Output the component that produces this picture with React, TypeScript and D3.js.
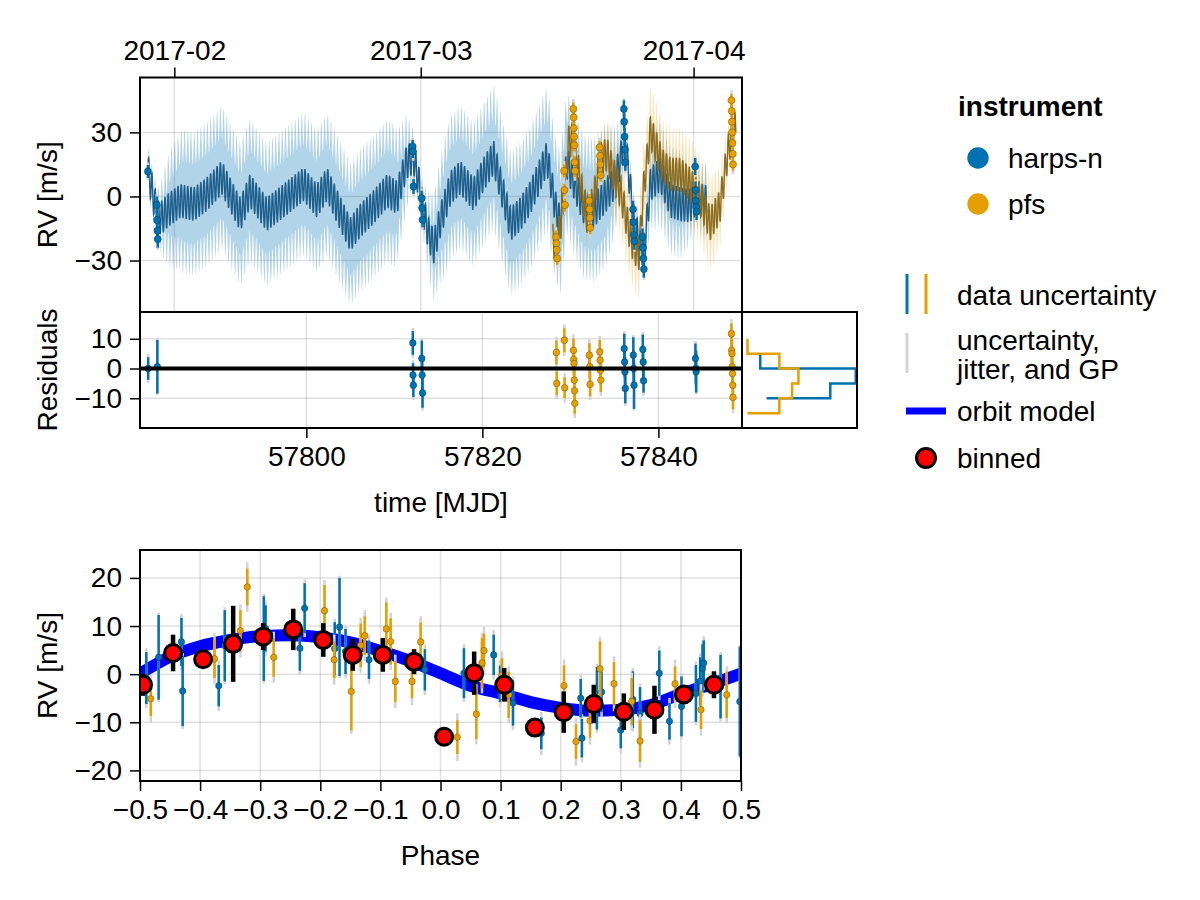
import * as d3 from 'd3'
import { useEffect, useRef } from 'react'

type Obs = [number, number, number] // [time or phase, rv, error]

// ---- axis ticks ----
const dateTickMJD = [57785, 57813, 57844]
const dateTickLabels = ['2017-02', '2017-03', '2017-04']
const mjdTicks = [57800, 57820, 57840]
const rvTicks = [-30, 0, 30]
const residTicks = [-10, 0, 10]
const phaseTicks = [-0.5, -0.4, -0.3, -0.2, -0.1, 0, 0.1, 0.2, 0.3, 0.4, 0.5]
const phaseRvTicks = [-20, -10, 0, 10, 20]

const instruments = ['harps-n', 'pfs']

// ---- orbit model (phase panel) ----
const orbitPhase = [-0.5, -0.45, -0.4, -0.35, -0.3, -0.25, -0.2, -0.15, -0.1, -0.05, 0, 0.05, 0.1, 0.15, 0.2, 0.25, 0.3, 0.35, 0.4, 0.45, 0.5]
const orbitRV = [0.1, 3.6, 5.8, 7.1, 7.9, 8.1, 7.7, 6.6, 4.8, 2.7, 0.2, -2.4, -4.0, -5.8, -7.0, -7.6, -7.4, -6.4, -4.1, -2.1, 0.1]
const orbitPeriod = 0.37
const orbitEpoch = 57782.0

// ---- slow (GP) part of the model under the orbit, per instrument ----
const harpsTrendT = [57782.0, 57782.5, 57783.1, 57783.6, 57784.2, 57785.7, 57787.2, 57788.7, 57790.4, 57791.7, 57792.5, 57793.6, 57795.5, 57797.4, 57799.7, 57801.2, 57802.35, 57803.9, 57805.0, 57806.1, 57807.6, 57809.2, 57810.3, 57811.4, 57812.15, 57812.7, 57813.2, 57813.9, 57814.5, 57815.2, 57816.4, 57817.5, 57819.0, 57820.15, 57821.3, 57822.05, 57823.2, 57824.3, 57825.45, 57826.6, 57827.35, 57828.3, 57828.86, 57829.6, 57830.35, 57831.5, 57832.65, 57833.8, 57834.9, 57835.6, 57836.15, 57836.6, 57837.2, 57837.95, 57838.4, 57839.1, 57840.2, 57841.4, 57842.5, 57843.6, 57844.3, 57845.5]
const harpsTrendRV = [12, 2, -10, -10, -7, -2.3, -3.9, 0.8, 8.6, -2.3, -8.6, 2.4, -8.6, -2.3, 5.5, -2.3, 5.5, -8.6, -18, -11.7, -5.4, 2.4, -0.8, 16, 18, 8, -5, -18, -24, -12, 3.9, 8.6, 0.8, 10.2, 18, 5.5, -13.2, -8.6, -0.8, 10.2, 18, -5.4, -13, 16, 7, -5, -7, -1, 5.5, 15, 27, 12, -12, -24, -25, 5.5, 10, -2.3, -4, -4.5, -1, -3]
const pfsTrendT = [57828.0, 57828.49, 57829.24, 57829.8, 57830.3, 57831.14, 57831.9, 57832.65, 57833.4, 57834.17, 57834.9, 57835.7, 57836.4, 57837.2, 57837.8, 57838.3, 57839.1, 57839.9, 57840.5, 57841.4, 57842.5, 57843.6, 57844.8, 57845.9, 57847.0, 57847.8, 57848.4, 57848.8]
const pfsTrendRV = [-20, -24, -2, 25, 27, 5.5, -10, -2, 17, 19.6, 10, 2, -11.7, -24, -27, 2.4, 30, 21, 14, 10, 10, 5.5, -2, -13, -5, 18, 30, 32]

// half width of the "uncertainty, jitter and GP" band around each model
const harpsBandT = [57782.0, 57783.1, 57784.5, 57786, 57810, 57811.5, 57812.2, 57813.2, 57814.5, 57816, 57834, 57835.5, 57836.2, 57838.3, 57839.5, 57842.5, 57844.25, 57845.5]
const harpsBandW = [4, 6, 20, 26, 26, 14, 5, 5, 18, 26, 26, 14, 6, 6, 16, 18, 6, 12]
const pfsBandT = [57828.0, 57828.45, 57830.5, 57831.3, 57832.2, 57833.4, 57834.8, 57836.5, 57846.5, 57848.4, 57848.8]
const pfsBandW = [10, 5, 5, 8, 5, 5, 12, 14, 14, 5, 8]

const harpsJitter = 3.0
const pfsJitter = 3.5

// ---- observations: RV vs time ----
const harpsObs: Obs[] = [
  [57782.0, 11.7, 3], [57783.0, -4, 4], [57783.04, -11, 4.5], [57783.08, -16, 4], [57783.12, -20, 4],
  [57812.08, 23.4, 3], [57812.12, 21, 3], [57812.18, 4.7, 3.5],
  [57813.1, -0.8, 3.5], [57813.15, -5.4, 3.5], [57813.2, -10.9, 3.5],
  [57836.08, 41, 4], [57836.12, 35, 4], [57836.16, 28, 4], [57836.2, 22, 4], [57836.24, 16, 4],
  [57837.12, -6, 4], [57837.17, -12, 4], [57837.22, -18, 4], [57837.27, -21, 4],
  [57838.2, -19, 4], [57838.25, -24, 4], [57838.3, -29, 4], [57838.35, -34, 4],
  [57844.18, 14, 4], [57844.22, 3, 4], [57844.26, -2, 4], [57844.3, -5, 4], [57844.34, -7, 4],
]
const pfsObs: Obs[] = [
  [57828.38, -19, 3], [57828.42, -22, 3], [57828.46, -25, 3], [57828.5, -29, 3],
  [57829.28, 12, 3], [57829.33, 3, 3], [57829.38, -4, 3],
  [57830.34, 41, 3], [57830.37, 37, 3], [57830.4, 32, 3], [57830.43, 28, 3], [57830.46, 24, 3], [57830.49, 16, 3], [57830.52, 12, 3],
  [57832.14, -2, 3], [57832.18, -6, 3], [57832.22, -10, 3], [57832.26, -14.7, 3],
  [57833.32, 23, 3], [57833.36, 19, 3], [57833.4, 15, 3], [57833.44, 10, 3],
  [57848.3, 45, 3], [57848.33, 40, 3], [57848.36, 35, 3], [57848.39, 30, 3], [57848.42, 25, 3], [57848.45, 20, 3], [57848.48, 15, 3],
]

// ---- residuals vs time ----
const harpsResid: Obs[] = [
  [57782.03, 0, 3.8], [57783.07, 0.6, 9],
  [57812.1, 8.6, 4], [57812.12, -2.2, 4], [57812.16, -5.6, 4],
  [57813.12, 3.4, 6], [57813.16, -2.2, 5], [57813.2, -8.2, 5],
  [57836.12, 6.7, 5], [57836.16, 2.2, 5], [57836.2, -1.1, 5], [57836.24, -6.7, 5],
  [57837.15, 4.5, 6], [57837.19, 0, 6], [57837.23, -5.6, 8],
  [57838.23, 6.4, 5], [57838.27, 2.2, 5], [57838.31, -4.1, 4],
  [57844.21, 3.4, 5], [57844.25, 0, 5], [57844.29, -1.1, 7],
]
const pfsResid: Obs[] = [
  [57828.41, 5.4, 4], [57828.45, -5.0, 4],
  [57829.31, 9.5, 4], [57829.35, -6.5, 3.5],
  [57830.35, 6.1, 4], [57830.38, 3.0, 4], [57830.41, 1.7, 4], [57830.44, -3.9, 4], [57830.47, -7.5, 4], [57830.5, -11.7, 3.5],
  [57832.16, 4.5, 4], [57832.2, 0.6, 4], [57832.24, -5.3, 4],
  [57833.34, 5.6, 4], [57833.38, 2.8, 4], [57833.42, -0.6, 4], [57833.46, -3.9, 4],
  [57848.3, 11.7, 3.5], [57848.33, 6.1, 4], [57848.36, 5, 4], [57848.39, 0.6, 4], [57848.42, -1.7, 4], [57848.45, -5.6, 4], [57848.48, -9.7, 4],
]

// ---- residual histograms (step vertices: count, residual) ----
const harpsHistEdges = [-10, -5, 0, 5]
const harpsHistCounts = [3, 13, 17, 2]
const pfsHistEdges = [-15, -10, -5, 0, 5, 10]
const pfsHistCounts = [0, 5, 7, 8, 5, 0]

// ---- phase folded data ----
const harpsPhased: Obs[] = [
  [-0.4895, -0.8, 5.4], [-0.469, 3.5, 8.8], [-0.431, 6.7, 5], [-0.429, -3.5, 7.3], [-0.369, -2.4, 4.3],
  [-0.359, 5.9, 7.4], [-0.294, 7.4, 8.8], [-0.291, 9.5, 4.8], [-0.234, 5.4, 4.7], [-0.226, 13.7, 5.2],
  [-0.176, 5.3, 5.5], [-0.168, 9.8, 10.2], [-0.158, 4.7, 4.7], [-0.119, 3.0, 4], [-0.026, 0.9, 4.3],
  [0.039, 0.2, 5.2], [0.0885, 4.0, 4.2], [0.099, -2.0, 3.8], [0.1206, -6.0, 4.7], [0.1677, -12.3, 3.3],
  [0.2333, -5.0, 4], [0.2353, -13.3, 4], [0.2603, -5.0, 6.5], [0.268, -3.7, 4.2], [0.3, -11.6, 3.8],
  [0.32, -5.3, 5.9], [0.332, -8.2, 5.5], [0.364, 0.2, 4.7], [0.381, -9.8, 3.8], [0.401, -6.7, 6.2],
  [0.425, -4.0, 5.9], [0.432, -1.5, 5], [0.436, 1.2, 5], [0.438, 2.3, 4.7], [0.466, -2.6, 6.6],
  [0.498, -5.7, 11.4],
]
const pfsPhased: Obs[] = [
  [-0.482, -5.1, 3.6], [-0.376, 3.2, 4], [-0.333, 9.0, 4.3], [-0.3215, 18.1, 3.8], [-0.2775, 3.5, 4],
  [-0.193, 13.2, 5.3], [-0.177, 3.0, 3.8], [-0.1484, -3.6, 8.1], [-0.1328, 6.0, 4.5], [-0.126, 8.0, 4],
  [-0.0902, 9.4, 5.5], [-0.0829, 6.8, 4.8], [-0.0752, -1.5, 4.3], [-0.0474, -1.5, 3.5], [-0.033, 6.7, 4],
  [0.028, -13.1, 3.5], [0.0596, -8.3, 5.2], [0.069, 2.3, 5.2], [0.0724, 4.9, 3.5], [0.1023, -0.2, 3.5],
  [0.1135, -4.3, 4.8], [0.2055, -2.4, 4.2], [0.2255, -14.0, 3.6], [0.2488, -9.7, 3.5], [0.2654, 1.1, 5.7],
  [0.2887, -2.0, 4.5], [0.3182, -5.7, 4.9], [0.332, -13.9, 4.3], [0.3902, -2.0, 3.6], [0.4334, -7.4, 4],
  [0.4762, -4.3, 4.8],
]

// ---- binned phase points ----
const binPhase = [-0.495, -0.445, -0.395, -0.345, -0.295, -0.245, -0.195, -0.146, -0.096, -0.044, 0.006, 0.056, 0.106, 0.157, 0.205, 0.255, 0.305, 0.356, 0.405, 0.455]
const binRV = [-2.2, 4.4, 3.1, 6.3, 7.8, 9.3, 7.1, 4.0, 4.0, 2.6, -13.0, 0.2, -2.2, -11.1, -7.9, -6.2, -7.8, -7.4, -4.2, -2.2]
const binErr = [2.3, 3.8, 1.0, 7.9, 2.8, 4.3, 3.5, 3.3, 3.5, 2.6, 0.5, 4.5, 3.5, 0.8, 4.3, 4.0, 3.8, 5.0, 1.6, 2.8]

// ---- styles ----
const FONT = "'Liberation Sans', Arial, Helvetica, sans-serif"
const FS = 28
const harpsColor = '#0072b2'
const pfsColor = '#e69f00'
const colors = [harpsColor, pfsColor]
const harpsLine = '#1d5e8c'
const pfsLine = '#8b6c22'
const gridColor = 'rgba(0,0,0,0.12)'
const grayBar = '#d3d3d3'

export default function App() {
  const ref = useRef<SVGSVGElement>(null)

  useEffect(() => {
    document.body.style.margin = '0'
    const svg = d3.select(ref.current!)
    svg.selectAll('*').remove()
    svg.attr('font-family', FONT)

    // scales
    const x = d3.scaleLinear().domain([57781.1, 57849.5]).range([140, 742])
    const yTop = d3.scaleLinear().domain([-54.1, 55.7]).range([312, 77.5])
    const yRes = d3.scaleLinear().domain([-20, 19]).range([428, 312])
    const xHist = d3.scaleLinear().domain([-0.87, 17.2]).range([742, 857])
    const xPh = d3.scaleLinear().domain([-0.5, 0.5]).range([140, 741])
    const yPh = d3.scaleLinear().domain([-22.2, 25.8]).range([781, 550])

    const defs = svg.append('defs')
    const clip = (id: string, xs: any, ys: any) => {
      const [x0, x1] = xs.range()
      const [y1, y0] = ys.range()
      defs.append('clipPath').attr('id', id).append('rect')
        .attr('x', x0).attr('y', y0).attr('width', x1 - x0).attr('height', y1 - y0)
      return `url(#${id})`
    }

    const grid = (g: any, xs: any, ys: any, xt: number[], yt: number[]) => {
      const [x0, x1] = xs.range()
      const [y1, y0] = ys.range()
      g.selectAll('.gx').data(xt).join('line').attr('class', 'gx')
        .attr('x1', (d: number) => xs(d)).attr('x2', (d: number) => xs(d))
        .attr('y1', y0).attr('y2', y1)
        .attr('stroke', gridColor).attr('stroke-width', 1.5)
      g.selectAll('.gy').data(yt).join('line').attr('class', 'gy')
        .attr('x1', x0).attr('x2', x1)
        .attr('y1', (d: number) => ys(d)).attr('y2', (d: number) => ys(d))
        .attr('stroke', gridColor).attr('stroke-width', 1.5)
    }

    const styleAxis = (ax: any) => {
      ax.select('.domain').remove()
      ax.attr('font-size', FS).attr('font-family', FONT)
      ax.selectAll('line').attr('stroke', '#000').attr('stroke-width', 1.5)
      ax.selectAll('text').attr('fill', '#000')
    }

    const frame = (xs: any, ys: any) => {
      const [x0, x1] = xs.range()
      const [y1, y0] = ys.range()
      svg.append('rect').attr('x', x0).attr('y', y0).attr('width', x1 - x0).attr('height', y1 - y0)
        .attr('fill', 'none').attr('stroke', '#000').attr('stroke-width', 2)
    }

    // error bars + markers
    const drawObs = (g: any, data: Obs[], xs: any, ys: any, color: string, jitter: number, r: number) => {
      g.append('g').selectAll('line').data(data).join('line')
        .attr('x1', (d: Obs) => xs(d[0])).attr('x2', (d: Obs) => xs(d[0]))
        .attr('y1', (d: Obs) => ys(d[1] - Math.hypot(d[2], jitter)))
        .attr('y2', (d: Obs) => ys(d[1] + Math.hypot(d[2], jitter)))
        .attr('stroke', grayBar).attr('stroke-width', 2.5)
      g.append('g').selectAll('line').data(data).join('line')
        .attr('x1', (d: Obs) => xs(d[0])).attr('x2', (d: Obs) => xs(d[0]))
        .attr('y1', (d: Obs) => ys(d[1] - d[2])).attr('y2', (d: Obs) => ys(d[1] + d[2]))
        .attr('stroke', color).attr('stroke-width', 2.5)
      g.append('g').selectAll('circle').data(data).join('circle')
        .attr('cx', (d: Obs) => xs(d[0])).attr('cy', (d: Obs) => ys(d[1])).attr('r', r)
        .attr('fill', color).attr('stroke', 'rgba(0,0,0,0.35)').attr('stroke-width', 0.7)
    }

    // ================= top panel: RV vs time =================
    const top = svg.append('g')
    grid(top, x, yTop, dateTickMJD, rvTicks)
    const topC = top.append('g').attr('clip-path', clip('clipTop', x, yTop))

    const orbit = d3.scaleLinear().domain(orbitPhase).range(orbitRV)
    const phaseAt = (t: number) => ((((t - orbitEpoch) / orbitPeriod) % 1) + 1) % 1 - 0.5
    const model = (tT: number[], tRV: number[], bT: number[], bW: number[]) => {
      const trend = d3.scaleLinear().domain(tT).range(tRV).clamp(true)
      const half = d3.scaleLinear().domain(bT).range(bW).clamp(true)
      const t0 = tT[0]
      const t1 = tT[tT.length - 1]
      return d3.range(t0, t1, orbitPeriod / 12).concat([t1]).map(t => {
        const m = trend(t) + orbit(phaseAt(t))
        return { t, m, lo: m - half(t), hi: m + half(t) }
      })
    }
    const harpsModel = model(harpsTrendT, harpsTrendRV, harpsBandT, harpsBandW)
    const pfsModel = model(pfsTrendT, pfsTrendRV, pfsBandT, pfsBandW)
    const band = d3.area<any>().x(d => x(d.t)).y0(d => yTop(d.lo)).y1(d => yTop(d.hi))
    const mline = d3.line<any>().x(d => x(d.t)).y(d => yTop(d.m))

    topC.append('path').datum(harpsModel).attr('d', band).attr('fill', harpsColor).attr('fill-opacity', 0.3)
    topC.append('path').datum(pfsModel).attr('d', band).attr('fill', pfsColor).attr('fill-opacity', 0.28)
    topC.append('path').datum(harpsModel).attr('d', mline).attr('fill', 'none')
      .attr('stroke', harpsLine).attr('stroke-width', 1.4)
    topC.append('path').datum(pfsModel).attr('d', mline).attr('fill', 'none')
      .attr('stroke', pfsLine).attr('stroke-width', 1.4)

    drawObs(topC, harpsObs, x, yTop, harpsColor, harpsJitter, 3.6)
    drawObs(topC, pfsObs, x, yTop, pfsColor, pfsJitter, 3.6)

    const topAxis = svg.append('g').attr('transform', `translate(0,${yTop.range()[1]})`)
      .call(d3.axisTop(x).tickValues(dateTickMJD).tickSize(10).tickPadding(8)
        .tickFormat((_d: any, i: number) => dateTickLabels[i]))
    styleAxis(topAxis)
    const topLeft = svg.append('g').attr('transform', 'translate(140,0)')
      .call(d3.axisLeft(yTop).tickValues(rvTicks).tickSize(10).tickPadding(8).tickFormat(d3.format('d')))
    styleAxis(topLeft)
    frame(x, yTop)

    // ================= residual panel =================
    const res = svg.append('g')
    grid(res, x, yRes, mjdTicks, residTicks)
    const resC = res.append('g').attr('clip-path', clip('clipRes', x, yRes))
    drawObs(resC, harpsResid, x, yRes, harpsColor, harpsJitter, 3.4)
    drawObs(resC, pfsResid, x, yRes, pfsColor, pfsJitter, 3.4)
    resC.append('line').attr('x1', x.range()[0]).attr('x2', x.range()[1])
      .attr('y1', yRes(0)).attr('y2', yRes(0)).attr('stroke', '#000').attr('stroke-width', 4)

    const resLeft = svg.append('g').attr('transform', 'translate(140,0)')
      .call(d3.axisLeft(yRes).tickValues(residTicks).tickSize(10).tickPadding(8).tickFormat(d3.format('d')))
    styleAxis(resLeft)
    const resBottom = svg.append('g').attr('transform', `translate(0,${yRes.range()[0]})`)
      .call(d3.axisBottom(x).tickValues(mjdTicks).tickSize(10).tickPadding(8).tickFormat(d3.format('d')))
    styleAxis(resBottom)
    frame(x, yRes)

    // histogram of residuals
    const hist = svg.append('g').attr('clip-path', clip('clipHist', xHist, yRes))
    const step = d3.line<[number, number]>().x(d => xHist(d[0])).y(d => yRes(d[1])).curve(d3.curveStepAfter)
    hist.append('path').datum(d3.zip(harpsHistCounts, harpsHistEdges)).attr('d', step as any)
      .attr('fill', 'none').attr('stroke', harpsColor).attr('stroke-width', 2.5)
    hist.append('path').datum(d3.zip(pfsHistCounts, pfsHistEdges)).attr('d', step as any)
      .attr('fill', 'none').attr('stroke', pfsColor).attr('stroke-width', 2.5)
    frame(xHist, yRes)

    // ================= phase panel =================
    const ph = svg.append('g')
    grid(ph, xPh, yPh, phaseTicks, phaseRvTicks)
    const phC = ph.append('g').attr('clip-path', clip('clipPh', xPh, yPh))
    const oline = d3.line<number>().x((_d, i) => xPh(orbitPhase[i])).y(d => yPh(d)).curve(d3.curveMonotoneX)
    phC.append('path').datum(orbitRV).attr('d', oline).attr('fill', 'none')
      .attr('stroke', '#0000ff').attr('stroke-width', 12)
    drawObs(phC, harpsPhased, xPh, yPh, harpsColor, harpsJitter, 3.3)
    drawObs(phC, pfsPhased, xPh, yPh, pfsColor, pfsJitter, 3.3)
    phC.append('g').selectAll('line').data(binPhase).join('line')
      .attr('x1', d => xPh(d)).attr('x2', d => xPh(d))
      .attr('y1', (_d, i) => yPh(binRV[i] - binErr[i])).attr('y2', (_d, i) => yPh(binRV[i] + binErr[i]))
      .attr('stroke', '#000').attr('stroke-width', 4.5)
    phC.append('g').selectAll('circle').data(binPhase).join('circle')
      .attr('cx', d => xPh(d)).attr('cy', (_d, i) => yPh(binRV[i])).attr('r', 8.5)
      .attr('fill', '#ff0000').attr('stroke', '#000').attr('stroke-width', 3)

    const phLeft = svg.append('g').attr('transform', 'translate(140,0)')
      .call(d3.axisLeft(yPh).tickValues(phaseRvTicks).tickSize(10).tickPadding(8).tickFormat(d3.format('d')))
    styleAxis(phLeft)
    const phBottom = svg.append('g').attr('transform', `translate(0,${yPh.range()[0]})`)
      .call(d3.axisBottom(xPh).tickValues(phaseTicks).tickSize(10).tickPadding(8).tickFormat(d3.format('.1f')))
    styleAxis(phBottom)
    frame(xPh, yPh)

    // ================= axis titles =================
    const ytitle = (label: string, cy: number) =>
      svg.append('text').attr('transform', `translate(57,${cy}) rotate(-90)`)
        .attr('text-anchor', 'middle').attr('font-size', FS).text(label)
    ytitle('RV [m/s]', (yTop.range()[0] + yTop.range()[1]) / 2)
    ytitle('Residuals', (yRes.range()[0] + yRes.range()[1]) / 2)
    ytitle('RV [m/s]', (yPh.range()[0] + yPh.range()[1]) / 2)
    svg.append('text').attr('x', (x.range()[0] + x.range()[1]) / 2).attr('y', 512)
      .attr('text-anchor', 'middle').attr('font-size', FS).text('time [MJD]')
    svg.append('text').attr('x', (xPh.range()[0] + xPh.range()[1]) / 2).attr('y', 865)
      .attr('text-anchor', 'middle').attr('font-size', FS).text('Phase')

    // ================= legends =================
    const leg = svg.append('g').attr('font-size', FS)
    leg.append('text').attr('x', 958).attr('y', 116).attr('font-weight', 'bold').text('instrument')
    instruments.forEach((name, i) => {
      const cy = 158 + i * 46
      leg.append('circle').attr('cx', 978).attr('cy', cy).attr('r', 10.7).attr('fill', colors[i])
      leg.append('text').attr('x', 1008).attr('y', cy).attr('dy', '0.35em').text(name)
    })

    leg.append('line').attr('x1', 907).attr('x2', 907).attr('y1', 274).attr('y2', 314)
      .attr('stroke', harpsColor).attr('stroke-width', 3)
    leg.append('line').attr('x1', 926).attr('x2', 926).attr('y1', 274).attr('y2', 314)
      .attr('stroke', pfsColor).attr('stroke-width', 3)
    leg.append('text').attr('x', 957).attr('y', 295).attr('dy', '0.35em').text('data uncertainty')

    leg.append('line').attr('x1', 907).attr('x2', 907).attr('y1', 333).attr('y2', 373)
      .attr('stroke', grayBar).attr('stroke-width', 3)
    leg.append('text').attr('x', 957).attr('y', 340).attr('dy', '0.35em').text('uncertainty,')
    leg.append('text').attr('x', 957).attr('y', 369).attr('dy', '0.35em').text('jitter, and GP')

    leg.append('line').attr('x1', 906).attr('x2', 946).attr('y1', 411).attr('y2', 411)
      .attr('stroke', '#0000ff').attr('stroke-width', 7)
    leg.append('text').attr('x', 957).attr('y', 411).attr('dy', '0.35em').text('orbit model')

    leg.append('circle').attr('cx', 926).attr('cy', 458).attr('r', 9.5)
      .attr('fill', '#ff0000').attr('stroke', '#000').attr('stroke-width', 3)
    leg.append('text').attr('x', 957).attr('y', 458).attr('dy', '0.35em').text('binned')
  }, [])

  return <svg ref={ref} width={1200} height={900} style={{ display: 'block', background: '#fff' }} />
}
